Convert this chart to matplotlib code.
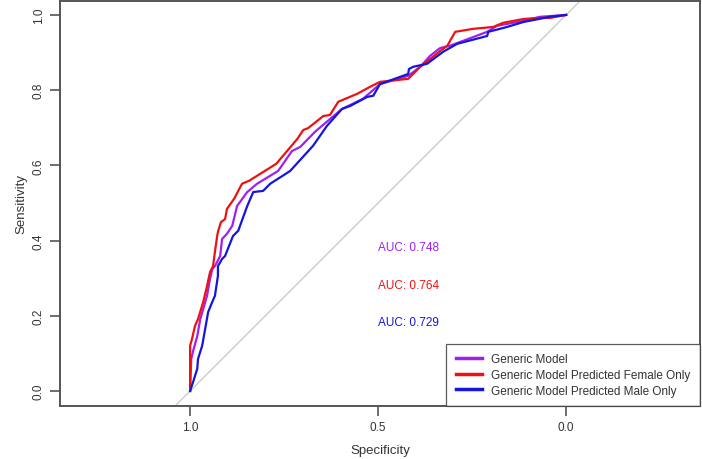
import matplotlib
matplotlib.use("Agg")
import matplotlib.pyplot as plt
import numpy as np

plt.rcParams['font.family'] = ['Liberation Sans', 'DejaVu Sans']

# --- ROC curves (specificity, sensitivity) ---
generic_spec = [1.0, 0.997, 0.992, 0.981, 0.973, 0.965, 0.955, 0.947, 0.941, 0.934,
                0.920, 0.915, 0.902, 0.888, 0.875, 0.848, 0.822, 0.766, 0.729, 0.707,
                0.668, 0.628, 0.596, 0.540, 0.495, 0.420, 0.388, 0.362, 0.335, 0.309,
                0.210, 0.184, 0.157, 0.114, 0.069, 0.0]
generic_sens = [0.0, 0.085, 0.106, 0.146, 0.191, 0.218, 0.253, 0.298, 0.324, 0.332,
                0.359, 0.404, 0.418, 0.439, 0.492, 0.529, 0.551, 0.585, 0.638, 0.649,
                0.689, 0.723, 0.750, 0.777, 0.816, 0.838, 0.862, 0.891, 0.912, 0.918,
                0.955, 0.971, 0.976, 0.984, 0.995, 1.0]

female_spec = [1.0, 1.0, 0.995, 0.987, 0.979, 0.965, 0.955, 0.947, 0.939, 0.934,
               0.928, 0.926, 0.918, 0.907, 0.902, 0.883, 0.862, 0.843, 0.771, 0.715,
               0.699, 0.686, 0.646, 0.628, 0.606, 0.556, 0.521, 0.495, 0.420, 0.388,
               0.335, 0.316, 0.295, 0.247, 0.194, 0.168, 0.114, 0.077, 0.043, 0.0]
female_sens = [0.0, 0.120, 0.138, 0.173, 0.191, 0.237, 0.279, 0.316, 0.332, 0.370,
               0.412, 0.423, 0.449, 0.457, 0.484, 0.511, 0.551, 0.559, 0.604, 0.670,
               0.694, 0.699, 0.731, 0.734, 0.769, 0.790, 0.809, 0.822, 0.830, 0.862,
               0.904, 0.918, 0.955, 0.963, 0.968, 0.979, 0.989, 0.992, 0.992, 1.0]

male_spec = [1.0, 0.992, 0.981, 0.979, 0.968, 0.960, 0.952, 0.941, 0.934, 0.926,
             0.926, 0.915, 0.907, 0.886, 0.872, 0.848, 0.832, 0.806, 0.787, 0.734,
             0.673, 0.636, 0.596, 0.574, 0.529, 0.513, 0.495, 0.420, 0.418, 0.407,
             0.370, 0.327, 0.290, 0.210, 0.207, 0.157, 0.114, 0.043, 0.0]
male_sens = [0.0, 0.024, 0.059, 0.085, 0.120, 0.165, 0.210, 0.237, 0.253, 0.306,
             0.332, 0.351, 0.359, 0.412, 0.426, 0.492, 0.529, 0.532, 0.551, 0.585,
             0.652, 0.705, 0.750, 0.758, 0.782, 0.785, 0.816, 0.843, 0.856, 0.862,
             0.870, 0.902, 0.923, 0.944, 0.955, 0.968, 0.981, 0.995, 1.0]

labels = ["Generic Model", "Generic Model Predicted Female Only",
          "Generic Model Predicted Male Only"]
aucs = [0.748, 0.764, 0.729]
colors = ['#a020f0', '#ee1111', '#1515e0']

xticks = [1.0, 0.5, 0.0]
yticks = [0.0, 0.2, 0.4, 0.6, 0.8, 1.0]

fig = plt.figure(figsize=(7.02, 4.60), dpi=100)
ax = fig.add_axes([60 / 702, 53 / 460, 640 / 702, 405 / 460])

xlim = (1.346, -0.356)
ylim = (-0.04, 1.037)

# chance diagonal across the whole panel
d = np.array([-0.5, 1.5])
ax.plot(d, 1 - d, color='#cccccc', lw=1, zorder=1)

curves = [(generic_spec, generic_sens), (female_spec, female_sens), (male_spec, male_sens)]
handles = []
for (sp, se), c, lab in zip(curves, colors, labels):
    h, = ax.plot(sp, se, color=c, lw=1.6, label=lab, zorder=2)
    handles.append(h)

# AUC annotations
auc_y = [0.383, 0.282, 0.183]
for a, y, c in zip(aucs, auc_y, colors):
    ax.text(0.5, y, f"AUC: {a:.3f}", color=c, fontsize=8.5, ha='left', va='center')

ax.set_xlim(*xlim)
ax.set_ylim(*ylim)
ax.set_xticks(xticks)
ax.set_xticklabels([f"{v:.1f}" for v in xticks])
ax.set_yticks(yticks)
ax.set_yticklabels([f"{v:.1f}" for v in yticks], rotation=90, va='center')

for side in ['top', 'right', 'left', 'bottom']:
    ax.spines[side].set_color('#555555')
    ax.spines[side].set_linewidth(1.4)
ax.tick_params(axis='both', direction='out', length=7, width=1.2, color='#555555',
               labelsize=8.5, labelcolor='#333333', pad=4)

ax.set_xlabel("Specificity", fontsize=9.5, color='#333333', labelpad=8)
ax.set_ylabel("Sensitivity", fontsize=9.5, color='#333333', labelpad=4)

leg = ax.legend(handles=handles, loc='lower right', fontsize=8.5, frameon=True,
                fancybox=False, borderaxespad=0, handlelength=2.2, handletextpad=0.8,
                labelspacing=0.3, borderpad=0.8)
leg.get_frame().set_edgecolor('#333333')
leg.get_frame().set_linewidth(0.9)
for h in leg.get_lines():
    h.set_linewidth(2.5)
for t in leg.get_texts():
    t.set_color('#333333')

fig.savefig("out.png", dpi=100)
